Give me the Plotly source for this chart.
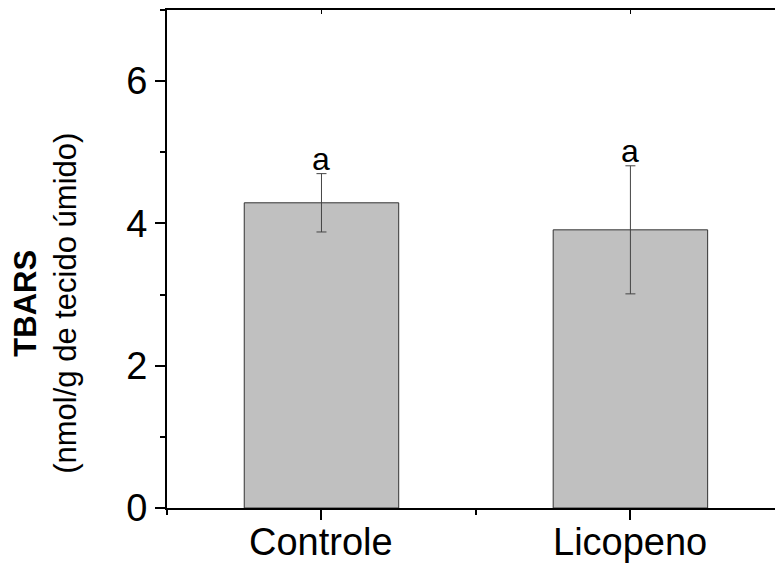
import plotly.graph_objects as go

categories = ["Controle", "Licopeno"]
means = [4.29, 3.91]
errors = [0.41, 0.90]
letters = ["a", "a"]
y_ticks = [0, 2, 4, 6]
y_minor = [1, 3, 5, 7]
x_pos = [0, 1]
x_minor = [-0.5, 0.5, 1.5]

FONT = "Liberation Sans, Arial, sans-serif"

fig = go.Figure()
fig.add_trace(go.Bar(
    x=x_pos, y=means, width=0.5,
    marker=dict(color="#c0c0c0", line=dict(color="#333333", width=1)),
    error_y=dict(type="data", array=errors, visible=True,
                 color="#444444", thickness=1, width=5),
    showlegend=False, hoverinfo="skip",
))
# invisible trace to carry the top axis
fig.add_trace(go.Scatter(x=x_pos, y=means, xaxis="x2", mode="markers",
                         marker=dict(opacity=0), showlegend=False,
                         hoverinfo="skip"))

for xp, m, e, t in zip(x_pos, means, errors, letters):
    fig.add_annotation(x=xp, y=m + e, text=t, showarrow=False,
                       xanchor="center", yanchor="bottom", yshift=-5,
                       font=dict(family=FONT, size=32, color="black"))

# category labels below the axis
for xp, c in zip(x_pos, categories):
    fig.add_annotation(x=xp, xref="x", y=0, yref="paper", text=c,
                       showarrow=False, xanchor="center", yanchor="top",
                       yshift=-11,
                       font=dict(family=FONT, size=38, color="black"))

fig.add_annotation(xref="paper", yref="paper", x=0, y=0.41,
                   xanchor="center", yanchor="middle", xshift=-121,
                   text="<b>TBARS</b><br>(nmol/g de tecido úmido)",
                   textangle=-90, showarrow=False,
                   font=dict(family=FONT, size=31, color="black"))

fig.update_layout(
    width=775, height=566,
    margin=dict(l=167, r=0, t=10, b=58, autoexpand=False),
    plot_bgcolor="white", paper_bgcolor="white",
    font=dict(family=FONT, color="black"),
    xaxis=dict(range=[-0.5, 1.468], tickvals=x_pos, showticklabels=False,
               automargin=False,
               ticks="outside", ticklen=10, tickwidth=1.5, tickcolor="black",
               minor=dict(tickvals=x_minor, ticks="outside", ticklen=5,
                          tickwidth=1.5, tickcolor="black"),
               showline=True, linecolor="black", linewidth=2, mirror=True,
               showgrid=False, zeroline=False),
    xaxis2=dict(overlaying="x", side="top", matches="x", automargin=False,
                range=[-0.5, 1.468], tickvals=x_pos, showticklabels=False,
                ticks="inside", ticklen=4, tickwidth=1, tickcolor="black",
                showline=False, showgrid=False, zeroline=False),
    yaxis=dict(range=[0, 7], tickvals=y_ticks, automargin=False,
               ticks="outside", ticklen=10, tickwidth=1.5, tickcolor="black",
               minor=dict(tickvals=y_minor, ticks="outside", ticklen=5,
                          tickwidth=1.5, tickcolor="black"),
               showline=True, linecolor="black", linewidth=2,
               showgrid=False, zeroline=False,
               tickfont=dict(family=FONT, size=38, color="black")),
)

fig.write_html("out.html", config={"displayModeBar": False},
               post_script="document.body.style.margin='0';"
                           "document.body.style.padding='0';")
